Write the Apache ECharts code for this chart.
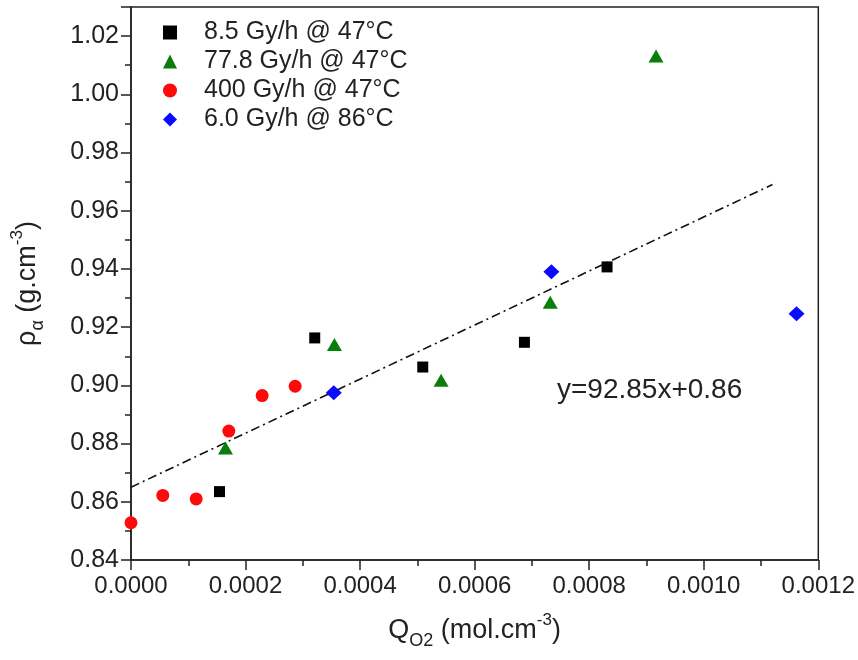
<!DOCTYPE html>
<html>
<head>
<meta charset="utf-8">
<script src="https://cdn.jsdelivr.net/npm/echarts@6/dist/echarts.min.js"></script>
<style>
html,body{margin:0;padding:0;background:#fff;}
#chart{width:858px;height:660px;}
</style>
</head>
<body>
<div id="chart"></div>
<script>
// Data
var seriesNames = ['8.5 Gy/h @ 47°C', '77.8 Gy/h @ 47°C', '400 Gy/h @ 47°C', '6.0 Gy/h @ 86°C'];
var black85 = [[0.0001545, 0.8635], [0.0003208, 0.9163], [0.0005094, 0.9063], [0.0006869, 0.9148], [0.0008312, 0.9407]];
var green778 = [[0.000165, 0.8785], [0.0003552, 0.9140], [0.0005414, 0.9018], [0.000732, 0.9286], [0.0009167, 1.0132]];
var red400 = [[0.0, 0.8528], [0.0000555, 0.8622], [0.0001138, 0.8610], [0.0001708, 0.8843], [0.000229, 0.8965], [0.0002866, 0.8997]];
var blue60 = [[0.000354, 0.8975], [0.000734, 0.9390], [0.001162, 0.9246]];
var fitLine = [[0.0, 0.865], [0.00112, 0.969]];
var fitLabel = 'y=92.85x+0.86';

var font = 'Liberation Sans, Arial, Helvetica, sans-serif';
var chart = echarts.init(document.getElementById('chart'), null, {renderer: 'canvas'});
var richStyles = {
  m: {fontSize: 27, lineHeight: 38, color: '#222', fontFamily: font},
  sub: {fontSize: 18, lineHeight: 18, verticalAlign: 'bottom', color: '#222', fontFamily: font},
  sup: {fontSize: 17, lineHeight: 17, verticalAlign: 'top', color: '#222', fontFamily: font}
};
var option = {
  animation: false,
  backgroundColor: '#fff',
  textStyle: {fontFamily: font},
  grid: {left: 131, right: 38, top: 7, bottom: 100, show: true, borderColor: '#222', borderWidth: 1.5, backgroundColor: 'transparent'},
  legend: {
    data: seriesNames,
    orient: 'vertical',
    left: 163, top: 20, padding: 0,
    itemWidth: 14, itemHeight: 14, itemGap: 4,
    textStyle: {fontSize: 25, lineHeight: 25, color: '#222', fontFamily: font, padding: [0, 0, 0, 22]}
  },
  xAxis: {
    type: 'value', min: 0, max: 0.0012, interval: 0.0002,
    splitLine: {show: false},
    axisLine: {show: true, onZero: false, lineStyle: {color: '#222', width: 1.5}},
    axisTick: {show: true, inside: false, length: 10, lineStyle: {color: '#222', width: 1.5}},
    minorTick: {show: true, splitNumber: 2, length: 6, lineStyle: {color: '#222', width: 1.5}},
    axisLabel: {fontSize: 24, color: '#222', margin: 14, fontFamily: font,
      formatter: function (v) { return v.toFixed(4); }},
    name: '{m|Q}{sub|O2}{m| (mol.cm}{sup|-3}{m|)}',
    nameLocation: 'middle', nameGap: 52,
    nameTextStyle: {rich: richStyles}
  },
  yAxis: {
    type: 'value', min: 0.84, max: 1.03, interval: 0.02,
    splitLine: {show: false},
    axisLine: {show: true, onZero: false, lineStyle: {color: '#222', width: 1.5}},
    axisTick: {show: true, inside: false, length: 10, lineStyle: {color: '#222', width: 1.5}},
    minorTick: {show: true, splitNumber: 2, length: 6, lineStyle: {color: '#222', width: 1.5}},
    axisLabel: {fontSize: 25, color: '#222', margin: 12, fontFamily: font, showMaxLabel: false,
      formatter: function (v) { return Math.abs(v - 1.03) < 1e-9 ? '' : v.toFixed(2); }},
    name: '{m|ρ}{sub|α}{m| (g.cm}{sup|-3}{m|)}',
    nameLocation: 'middle', nameGap: 84, nameRotate: 90,
    nameTextStyle: {rich: richStyles}
  },
  series: [
    {name: 'fit', type: 'line', data: fitLine, showSymbol: false, symbol: 'none', silent: true,
      lineStyle: {color: '#111', width: 1.6, type: [9, 4, 2, 4]}, z: 1},
    {name: seriesNames[0], type: 'scatter', data: black85, symbol: 'rect', symbolSize: 11,
      itemStyle: {color: '#000', opacity: 1}, z: 3},
    {name: seriesNames[1], type: 'scatter', data: green778, symbol: 'triangle', symbolSize: [15, 13],
      itemStyle: {color: '#0b7d0b', opacity: 1}, z: 3},
    {name: seriesNames[2], type: 'scatter', data: red400, symbol: 'circle', symbolSize: 13,
      itemStyle: {color: '#ff0a0a', opacity: 1}, z: 3},
    {name: seriesNames[3], type: 'scatter', data: blue60, symbol: 'diamond', symbolSize: [16, 15],
      itemStyle: {color: '#0a0aff', opacity: 1}, z: 3}
  ],
  graphic: [
    {type: 'text', left: 557, top: 376, z: 10,
      style: {text: fitLabel, fontSize: 28, fill: '#222', fontFamily: font}}
  ]
};
chart.setOption(option);
</script>
</body>
</html>
